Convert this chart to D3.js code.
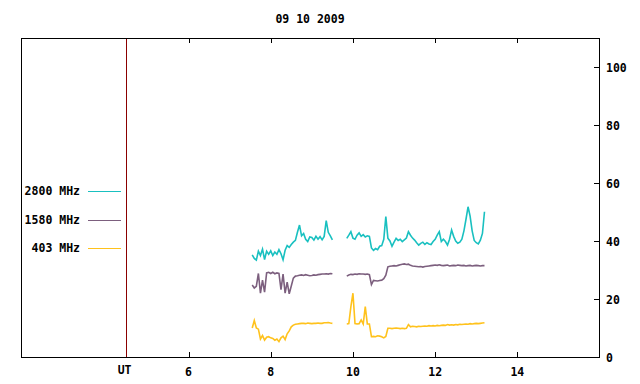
<!DOCTYPE html>
<html>
<head>
<meta charset="utf-8">
<script src="https://cdn.jsdelivr.net/npm/d3@7"></script>
<style>
  html, body { margin: 0; padding: 0; background: #ffffff; }
  svg text { font-family: "DejaVu Sans Mono", "Liberation Mono", monospace; font-weight: bold; font-size: 11.5px; fill: #000; }
</style>
</head>
<body>
<svg id="chart" width="640" height="384"></svg>
<script>
// ---------------- data ----------------
const title = "09 10 2009";
const xTicks = [6, 8, 10, 12, 14];
const yTicks = [0, 20, 40, 60, 80, 100];
const utPosition = 4.47;           // hour position of the "UT" marker line
const seriesNames = ["2800 MHz", "1580 MHz", "403 MHz"];
const seriesColors = ["#19c0c0", "#7c5f7e", "#ffc21c"];

// time samples (UT hours): 7.55 .. 13.20 every 0.05 h
const hourStart = 7.55, hourStep = 0.05, hourCount = 114;
const hours = d3.range(hourCount).map(i => +(hourStart + i * hourStep).toFixed(2));

const flux2800 = [
  35.2, 34.0, 33.4, 36.5, 35.0, 37.2, 33.6, 36.5, 35.4, 36.6,
  35.0, 36.2, 35.4, 37.0, 35.6, 33.5, 36.8, 38.4, 37.8, 38.8,
  39.6, 40.2, 43.0, 45.5, 41.8, 42.6, 40.6, 39.8, 41.4, 41.2,
  40.3, 41.6, 40.6, 41.5, 40.4, 41.6, 47.0, 43.0, 41.8, 40.4,
  null, null, null, null, null, null,
  40.9, 42.0, 43.2, 41.0, 40.6, 42.0, 42.8, 41.6, 42.2, 41.4,
  41.8, 41.6, 37.6, 36.8, 37.4, 37.0, 38.2, 38.4, 40.6, 48.4,
  41.0, 40.0, 38.2, 39.6, 40.9, 40.2, 40.6, 39.8, 40.4, 41.0,
  43.2, 42.0, 41.0, 40.3, 39.4, 38.6, 39.2, 39.6, 38.8, 39.4,
  39.0, 38.8, 39.8, 40.6, 42.0, 43.2, 39.8, 40.6, 39.8, 38.6,
  40.6, 43.8, 41.6, 40.0, 39.2, 39.6, 40.6, 43.5, 47.5, 51.8,
  48.6, 43.5, 40.2, 39.4, 39.0, 40.3, 42.6, 50.1
];

const flux1580 = [
  24.8, 23.8, 24.4, 28.8, 22.0, 26.5, 22.4, 29.0, 29.2, 28.8,
  29.2, 28.7, 29.0, 28.8, 23.2, 28.6, 22.0, 25.8, 21.8, 24.5,
  27.2, 27.9, 28.0, 28.2, 28.3, 28.1, 28.4, 28.2, 28.0, 28.1,
  28.3, 28.2, 28.4, 28.5, 28.6, 28.6, 28.7, 28.6, 28.8, 28.7,
  null, null, null, null, null, null,
  27.9, 28.3, 28.5, 28.4, 28.6, 28.5, 28.7, 28.6, 28.6, 28.5,
  28.6, 28.4, 25.0, 26.4, 26.3, 26.2, 26.4, 26.5, 27.0, 28.2,
  31.1, 31.3, 31.4, 31.5, 31.4, 31.6, 31.8, 32.0, 32.1, 31.9,
  32.0, 31.6, 31.4, 31.3, 31.2, 31.1, 31.2, 31.0, 31.2, 31.3,
  31.4, 31.5, 31.6, 31.7, 31.6, 31.8, 31.6, 31.5, 31.6, 31.7,
  31.4, 31.5, 31.6, 31.5, 31.7, 31.6, 31.5, 31.6, 31.4, 31.5,
  31.6, 31.4, 31.5, 31.6, 31.5, 31.4, 31.5, 31.5
];

const flux403 = [
  10.0, 12.6, 10.0, 9.6, 6.2, 7.4, 5.8, 6.8, 7.0, 6.6,
  6.4, 5.8, 6.2, 5.3, 6.6, 7.2, 6.0, 8.0, 9.0, 10.4,
  11.0, 11.3, 11.4, 11.5, 11.6, 11.6, 11.5, 11.7, 11.6, 11.5,
  11.6, 11.6, 11.7, 11.6, 11.6, 11.8, 11.8, 11.9, 11.7, 11.6,
  null, null, null, null, null, null,
  11.4, 11.5, 17.4, 22.0, 11.5, 11.4, 11.5, 12.8, 11.4, 17.4,
  11.4, 11.4, 7.0, 7.1, 7.0, 7.3, 7.2, 7.0, 6.6, 7.1,
  9.9, 9.9, 9.8, 9.9, 10.0, 9.9, 9.8, 9.9, 9.8, 9.9,
  11.2, 10.4, 10.6, 10.5, 10.4, 10.6, 10.5, 10.6, 10.7, 10.6,
  10.8, 10.7, 10.8, 10.7, 10.9, 10.8, 10.9, 11.0, 10.9, 11.2,
  11.0, 11.1, 11.0, 11.2, 11.1, 11.3, 11.2, 11.3, 11.4, 11.3,
  11.5, 11.4, 11.5, 11.6, 11.5, 11.6, 11.7, 11.8
];

const seriesValues = [flux2800, flux1580, flux403];

// ---------------- drawing ----------------
const svg = d3.select("#chart");
const plotLeft = 21, plotRight = 599, plotTop = 38, plotBottom = 357;

const x = d3.scaleLinear().domain([1.925, 16.01]).range([plotLeft, 600]);
const y = d3.scaleLinear().domain([0, 110]).range([plotBottom, plotTop]);

// title
svg.append("text")
  .attr("x", 310).attr("y", 19)
  .attr("text-anchor", "middle").attr("dominant-baseline", "central")
  .text(title);

// data lines
const line = d3.line()
  .defined(d => d[1] !== null)
  .x(d => x(d[0]))
  .y(d => y(d[1]));

seriesValues.forEach((vals, i) => {
  const pts = hours.map((h, j) => [h, vals[j]]);
  svg.append("path")
    .attr("d", line(pts))
    .attr("fill", "none")
    .attr("stroke", seriesColors[i])
    .attr("stroke-width", 1.6)
    .attr("stroke-linejoin", "miter");
});

// UT vertical marker
svg.append("line")
  .attr("x1", Math.round(x(utPosition)) + 0.5).attr("x2", Math.round(x(utPosition)) + 0.5)
  .attr("y1", plotTop).attr("y2", plotBottom)
  .attr("stroke", "#8b0000").attr("stroke-width", 1);

// frame
svg.append("rect")
  .attr("x", plotLeft + 0.5).attr("y", plotTop + 0.5)
  .attr("width", plotRight - plotLeft).attr("height", plotBottom - plotTop - 0.5)
  .attr("fill", "none").attr("stroke", "#000").attr("stroke-width", 1)
  .attr("shape-rendering", "crispEdges");

// x ticks (top and bottom, inward)
const tickG = svg.append("g").attr("shape-rendering", "crispEdges");
xTicks.forEach(t => {
  const px = Math.round(x(t)) + 0.5;
  tickG.append("line").attr("x1", px).attr("x2", px).attr("y1", plotTop).attr("y2", plotTop + 5).attr("stroke", "#000");
  tickG.append("line").attr("x1", px).attr("x2", px).attr("y1", plotBottom).attr("y2", plotBottom - 5).attr("stroke", "#000");
  svg.append("text")
    .attr("x", x(t)).attr("y", 372)
    .attr("text-anchor", "middle").attr("dominant-baseline", "central")
    .text(t);
});
svg.append("text")
  .attr("x", x(utPosition) - 1).attr("y", 369.5)
  .attr("text-anchor", "middle").attr("dominant-baseline", "central")
  .text("UT");

// y ticks (right side, inward) and labels
yTicks.forEach(t => {
  const py = Math.round(y(t)) + 0.5;
  if (t > 0) {
    tickG.append("line").attr("x1", plotRight).attr("x2", plotRight - 5).attr("y1", py).attr("y2", py).attr("stroke", "#000");
  }
  svg.append("text")
    .attr("x", 606).attr("y", y(t) + 1)
    .attr("text-anchor", "start").attr("dominant-baseline", "central")
    .text(t);
});

// legend
const legendY = [191, 219.5, 248];
seriesNames.forEach((name, i) => {
  svg.append("text")
    .attr("x", 80).attr("y", legendY[i])
    .attr("text-anchor", "end").attr("dominant-baseline", "central")
    .text(name);
  svg.append("line")
    .attr("x1", 88).attr("x2", 121)
    .attr("y1", Math.round(legendY[i]) + 0.5).attr("y2", Math.round(legendY[i]) + 0.5)
    .attr("stroke", seriesColors[i]).attr("stroke-width", 1)
    .attr("shape-rendering", "crispEdges");
});
</script>
</body>
</html>
